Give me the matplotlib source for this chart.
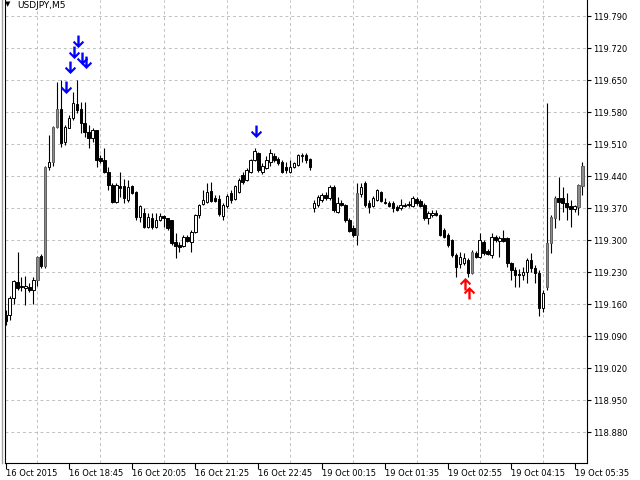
import matplotlib
matplotlib.use('Agg')
import matplotlib.pyplot as plt
from matplotlib.path import Path
from matplotlib.patches import Rectangle
from matplotlib.lines import Line2D
import numpy as np

symbol = "USDJPY,M5"

opens = [119.136, 119.136, 119.173, 119.208, 119.199, 119.195, 119.197, 119.191, 119.212, 119.265,
         119.243, 119.460, 119.471, 119.547, 119.587, 119.514, 119.545, 119.567, 119.598, 119.587,
         119.556, 119.536, 119.523, 119.541, 119.479, 119.475, 119.449, 119.420, 119.383, 119.418,
         119.418, 119.387, 119.418, 119.405, 119.350, 119.359, 119.328, 119.348, 119.328, 119.344,
         119.353, 119.348, 119.344, 119.296, 119.289, 119.287, 119.306, 119.296, 119.317, 119.355,
         119.379, 119.383, 119.407, 119.392, 119.390, 119.353, 119.374, 119.403, 119.390, 119.405,
         119.442, 119.431, 119.449, 119.475, 119.490, 119.449, 119.458, 119.471, 119.484, 119.477,
         119.471, 119.460, 119.449, 119.460, 119.464, 119.484, 119.486, 119.477, 119.370, 119.377,
         119.387, 119.398, 119.392, 119.416, 119.361, 119.381, 119.377, 119.344, 119.326, 119.311,
         119.401, 119.425, 119.381, 119.374, 119.387, 119.405, 119.383, 119.381, 119.381, 119.372,
         119.370, 119.377, 119.377, 119.374, 119.390, 119.385, 119.377, 119.348, 119.355, 119.359,
         119.355, 119.322, 119.311, 119.300, 119.267, 119.248, 119.250, 119.256, 119.228, 119.271,
         119.263, 119.296, 119.276, 119.267, 119.306, 119.298, 119.304, 119.304, 119.250, 119.234,
         119.226, 119.223, 119.230, 119.256, 119.239, 119.228, 119.151, 119.197, 119.293, 119.348,
         119.392, 119.392, 119.381, 119.374, 119.368, 119.372, 119.418]
highs = [119.147, 119.178, 119.212, 119.274, 119.219, 119.221, 119.206, 119.219, 119.265, 119.269,
         119.462, 119.530, 119.549, 119.646, 119.650, 119.552, 119.573, 119.624, 119.650, 119.602,
         119.602, 119.552, 119.545, 119.541, 119.486, 119.501, 119.460, 119.425, 119.425, 119.449,
         119.433, 119.431, 119.420, 119.407, 119.377, 119.370, 119.359, 119.359, 119.359, 119.359,
         119.355, 119.348, 119.344, 119.315, 119.296, 119.311, 119.311, 119.322, 119.357, 119.379,
         119.409, 119.425, 119.427, 119.398, 119.398, 119.381, 119.401, 119.409, 119.420, 119.436,
         119.449, 119.458, 119.477, 119.501, 119.492, 119.468, 119.484, 119.499, 119.490, 119.482,
         119.475, 119.471, 119.475, 119.471, 119.488, 119.490, 119.490, 119.479, 119.387, 119.398,
         119.403, 119.405, 119.420, 119.420, 119.394, 119.387, 119.379, 119.348, 119.333, 119.425,
         119.425, 119.429, 119.387, 119.396, 119.412, 119.407, 119.392, 119.385, 119.385, 119.377,
         119.390, 119.381, 119.385, 119.396, 119.394, 119.390, 119.381, 119.363, 119.366, 119.366,
         119.357, 119.326, 119.315, 119.302, 119.271, 119.274, 119.271, 119.261, 119.278, 119.276,
         119.315, 119.300, 119.280, 119.315, 119.311, 119.309, 119.322, 119.306, 119.252, 119.241,
         119.237, 119.241, 119.261, 119.271, 119.245, 119.234, 119.191, 119.600, 119.355, 119.396,
         119.438, 119.416, 119.403, 119.387, 119.377, 119.423, 119.471]
lows = [119.114, 119.125, 119.160, 119.191, 119.188, 119.158, 119.186, 119.160, 119.199, 119.239,
        119.239, 119.453, 119.462, 119.545, 119.503, 119.508, 119.545, 119.562, 119.578, 119.534,
        119.525, 119.501, 119.514, 119.460, 119.468, 119.447, 119.409, 119.381, 119.381, 119.394,
        119.381, 119.383, 119.401, 119.344, 119.339, 119.326, 119.326, 119.324, 119.326, 119.342,
        119.328, 119.322, 119.289, 119.261, 119.274, 119.285, 119.296, 119.274, 119.315, 119.348,
        119.377, 119.381, 119.383, 119.383, 119.353, 119.344, 119.370, 119.381, 119.387, 119.403,
        119.423, 119.429, 119.447, 119.473, 119.449, 119.444, 119.455, 119.462, 119.471, 119.464,
        119.447, 119.447, 119.447, 119.458, 119.462, 119.471, 119.468, 119.453, 119.361, 119.372,
        119.383, 119.387, 119.387, 119.361, 119.359, 119.374, 119.339, 119.317, 119.306, 119.289,
        119.394, 119.372, 119.359, 119.372, 119.385, 119.383, 119.379, 119.372, 119.361, 119.363,
        119.366, 119.372, 119.372, 119.372, 119.377, 119.372, 119.344, 119.335, 119.350, 119.353,
        119.309, 119.304, 119.285, 119.263, 119.219, 119.239, 119.245, 119.219, 119.226, 119.261,
        119.261, 119.267, 119.267, 119.261, 119.296, 119.263, 119.296, 119.241, 119.212, 119.197,
        119.197, 119.212, 119.206, 119.230, 119.206, 119.134, 119.143, 119.191, 119.271, 119.326,
        119.344, 119.361, 119.344, 119.328, 119.361, 119.355, 119.398]
closes = [119.123, 119.173, 119.210, 119.195, 119.197, 119.199, 119.191, 119.212, 119.263, 119.243,
          119.460, 119.471, 119.547, 119.587, 119.512, 119.547, 119.567, 119.600, 119.584, 119.556,
          119.536, 119.523, 119.541, 119.475, 119.473, 119.449, 119.420, 119.383, 119.420, 119.414,
          119.392, 119.416, 119.403, 119.350, 119.374, 119.328, 119.350, 119.328, 119.344, 119.353,
          119.348, 119.326, 119.293, 119.287, 119.285, 119.306, 119.298, 119.317, 119.355, 119.377,
          119.387, 119.405, 119.385, 119.385, 119.357, 119.377, 119.396, 119.387, 119.418, 119.431,
          119.427, 119.453, 119.475, 119.495, 119.453, 119.462, 119.475, 119.490, 119.475, 119.468,
          119.449, 119.453, 119.460, 119.468, 119.486, 119.486, 119.475, 119.460, 119.381, 119.394,
          119.398, 119.392, 119.416, 119.366, 119.381, 119.377, 119.344, 119.320, 119.311, 119.403,
          119.416, 119.377, 119.372, 119.392, 119.409, 119.385, 119.381, 119.374, 119.370, 119.366,
          119.377, 119.374, 119.379, 119.392, 119.381, 119.374, 119.348, 119.359, 119.359, 119.355,
          119.311, 119.306, 119.289, 119.267, 119.241, 119.263, 119.261, 119.228, 119.274, 119.263,
          119.300, 119.271, 119.269, 119.306, 119.300, 119.304, 119.298, 119.250, 119.234, 119.223,
          119.223, 119.230, 119.256, 119.239, 119.228, 119.151, 119.184, 119.293, 119.350, 119.392,
          119.383, 119.381, 119.372, 119.368, 119.374, 119.420, 119.462]

time_labels = ["16 Oct 2015", "16 Oct 18:45", "16 Oct 20:05", "16 Oct 21:25", "16 Oct 22:45",
               "19 Oct 00:15", "19 Oct 01:35", "19 Oct 02:55", "19 Oct 04:15", "19 Oct 05:35"]
label_every = 16
grid_every = 8

price_ticks = [118.880, 118.950, 119.020, 119.090, 119.160, 119.230, 119.300,
               119.370, 119.440, 119.510, 119.580, 119.650, 119.720, 119.790]

sell_bars = [15, 16, 17, 18, 19, 20, 63]
sell_prices = [119.633, 119.676, 119.709, 119.733, 119.696, 119.687, 119.536]
buy_bars = [116, 117]
buy_prices = [119.206, 119.186]

# ---- figure ----
W, H = 640, 480
fig = plt.figure(figsize=(6.4, 4.8), dpi=100)
fig.patch.set_facecolor('white')
left_px, right_px, bottom_px = 4.5, 587.0, 463.0
ax = fig.add_axes([left_px / W, 1 - bottom_px / H, (right_px - left_px) / W, bottom_px / H])
ax.set_facecolor('white')

n = len(opens)
xs = np.arange(n)
ax.set_xlim(-0.30, 147.16)
ax.set_ylim(118.8122, 119.825)

# grid
grid_kw = dict(color='#c0c0c0', linestyle=(0, (3, 3)), linewidth=0.7)
ax.set_yticks(price_ticks)
ax.set_yticklabels([f"{p:.3f}" for p in price_ticks])
ax.yaxis.tick_right()
ax.grid(axis='y', which='major', **grid_kw)

major_x = list(range(0, n, label_every))
ax.set_xticks(major_x)
ax.set_xticklabels(time_labels[:len(major_x)])
ax.set_xticks(list(range(grid_every, n, grid_every)), minor=True)
ax.grid(axis='x', which='minor', **grid_kw)
ax.grid(axis='x', which='major', visible=False)
ax.set_axisbelow(True)

ax.tick_params(axis='y', which='major', direction='out', length=3, width=0.8,
               labelsize=6, pad=1.5, colors='black', right=True, left=False)
ax.tick_params(axis='x', which='major', direction='out', length=4, width=0.8,
               labelsize=6, pad=0.5, colors='black')
ax.tick_params(axis='x', which='minor', length=0)
for lab in ax.get_xticklabels():
    lab.set_horizontalalignment('left')

for side in ['left', 'right', 'bottom']:
    ax.spines[side].set_color('black')
    ax.spines[side].set_linewidth(0.8)
ax.spines['top'].set_visible(False)

# candles
body_w = 0.62
ax.vlines(xs, lows, highs, color='black', linewidth=0.8, zorder=2)
for i in range(n):
    o, c = opens[i], closes[i]
    lo, hi = min(o, c), max(o, c)
    if hi - lo < 0.0008:
        ax.hlines((o + c) / 2, i - body_w / 2, i + body_w / 2, color='black', linewidth=0.9, zorder=3)
        continue
    if c > o:
        # narrow hollow bodies read as grey once tall, as in the reference rendering
        fc = '#8c8c8c' if (hi - lo) >= 0.04 else 'white'
        ec = '#606060' if (hi - lo) >= 0.04 else 'black'
    else:
        fc, ec = 'black', 'black'
    ax.add_patch(Rectangle((i - body_w / 2, lo), body_w, hi - lo, facecolor=fc,
                           edgecolor=ec, linewidth=0.7, zorder=3))

# arrow markers
down_verts = [(-0.17, 1.0), (0.17, 1.0), (0.17, -0.2), (0.62, 0.25), (0.8, 0.0),
              (0.0, -0.8), (-0.8, 0.0), (-0.62, 0.25), (-0.17, -0.2), (-0.17, 1.0)]
down_path = Path(down_verts, closed=True)
up_path = Path([(x, -y) for x, y in down_verts], closed=True)
ax.plot(np.array(sell_bars) + 0.3, sell_prices, linestyle='none', marker=down_path,
        markersize=10, color='#0000ff', markeredgewidth=0, zorder=5)
ax.plot(np.array(buy_bars) + 0.3, buy_prices, linestyle='none', marker=up_path,
        markersize=10, color='#ff0000', markeredgewidth=0, zorder=5)

# header text & frame
fig.text(8 / W, 1 - 4.5 / H, '\u25bc', fontsize=5, va='center', ha='center', color='black')
fig.text(17 / W, 1 - 1.0 / H, symbol, fontsize=6.5, va='top', ha='left', color='black')
fig.add_artist(Line2D([1.5 / W, 1.5 / W], [1 - bottom_px / H, 1], color='#a0a0a0',
                      linewidth=1.0, transform=fig.transFigure))

fig.savefig('out.png', dpi=100)
